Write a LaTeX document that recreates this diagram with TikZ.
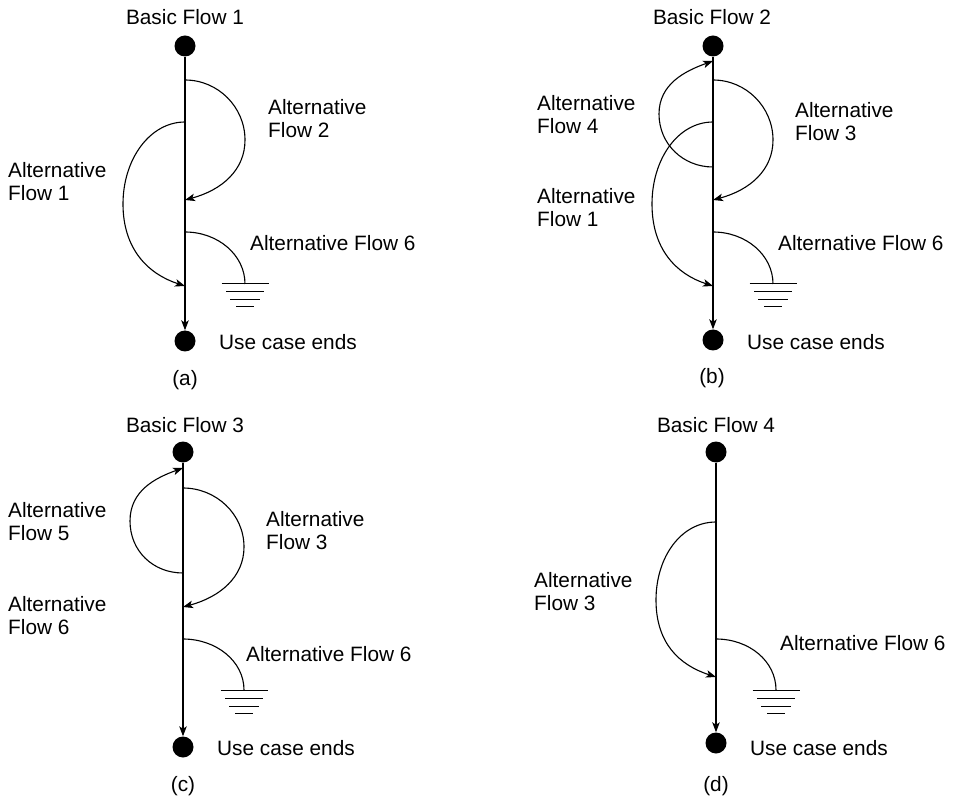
\documentclass[tikz,border=0pt]{standalone}
\usepackage{fontspec}
\setmainfont{Liberation Sans}
\usetikzlibrary{arrows.meta}
\newcommand\groundat[1]{%
  \draw[gline] ([xshift=-23.5pt]#1) -- ([xshift=23.5pt]#1);
  \draw[gline] ([xshift=-19pt,yshift=-8pt]#1) -- ([xshift=19pt,yshift=-8pt]#1);
  \draw[gline] ([xshift=-15pt,yshift=-16pt]#1) -- ([xshift=15pt,yshift=-16pt]#1);
  \draw[gline] ([xshift=-9pt,yshift=-23pt]#1) -- ([xshift=9pt,yshift=-23pt]#1);}
\begin{document}
\begin{tikzpicture}[x=1pt,y=-1pt,
  dot/.style={circle,fill=black,inner sep=0pt,minimum size=21pt},
  lbl/.style={font=\fontsize{20.8}{23}\selectfont,inner sep=0pt,align=left,anchor=west},
  ctr/.style={font=\fontsize{20.8}{23}\selectfont,inner sep=0pt},
  flow/.style={line width=1.1pt},
  arr/.style={line width=1.1pt,-{Stealth[length=10pt,width=7.5pt,inset=2.5pt]}},
  gline/.style={line width=1pt}]
\useasboundingbox (0,0) rectangle (953,799);
% ---------------- (a)
\node[dot] (a0) at (185,46) {};
\node[dot] (a9) at (185,341) {};
\draw[arr] (a0) -- (a9);
\coordinate (a2s) at (185,80); \coordinate (a2m) at (245,140); \coordinate (a2e) at (185,200);
\draw[arr] (a2s) .. controls +(33,0) and +(0,-33) .. (a2m) .. controls +(0,30) and +(37,-10) .. (a2e);
\coordinate (a1s) at (185,122); \coordinate (a1m) at (123,204); \coordinate (a1e) at (185,286);
\draw[arr] (a1s) .. controls +(-35,0) and +(0,-45) .. (a1m) .. controls +(0,45) and +(-37,-12) .. (a1e);
\coordinate (a6s) at (185,232); \coordinate (a6e) at (245,284);
\draw[flow] (a6s) .. controls +(33,0) and +(0,-29) .. (a6e);
\groundat{a6e}
\node[ctr] (aT) at (185,17) {Basic Flow 1};
\node[lbl] (aL2) at (268,118.5) {Alternative\\Flow 2};
\node[lbl] (aL1) at (8,181.5) {Alternative\\Flow 1};
\node[lbl] (aL6) at (250,243) {Alternative Flow 6};
\node[lbl] (aU) at (219,342) {Use case ends};
\node[ctr] (aC) at (185,380) {(a)};
% ---------------- (b)
\node[dot] (b0) at (713,46) {};
\node[dot] (b9) at (713,340) {};
\draw[arr] (b0) -- (b9);
\coordinate (b4s) at (713,167); \coordinate (b4m) at (659,114); \coordinate (b4e) at (713,61);
\draw[arr] (b4s) .. controls +(-30,0) and +(0,30) .. (b4m) .. controls +(0,-30) and +(-28,10) .. (b4e);
\coordinate (b3s) at (713,80); \coordinate (b3m) at (773,140); \coordinate (b3e) at (713,200);
\draw[arr] (b3s) .. controls +(33,0) and +(0,-33) .. (b3m) .. controls +(0,30) and +(37,-10) .. (b3e);
\coordinate (b1s) at (713,122); \coordinate (b1m) at (652,204); \coordinate (b1e) at (713,286);
\draw[arr] (b1s) .. controls +(-35,0) and +(0,-45) .. (b1m) .. controls +(0,45) and +(-37,-12) .. (b1e);
\coordinate (b6s) at (713,232); \coordinate (b6e) at (773,284);
\draw[flow] (b6s) .. controls +(33,0) and +(0,-29) .. (b6e);
\groundat{b6e}
\node[ctr] (bT) at (712,17) {Basic Flow 2};
\node[lbl] (bL4) at (537,114.5) {Alternative\\Flow 4};
\node[lbl] (bL3) at (795,121.5) {Alternative\\Flow 3};
\node[lbl] (bL1) at (537,207.5) {Alternative\\Flow 1};
\node[lbl] (bL6) at (778,243) {Alternative Flow 6};
\node[lbl] (bU) at (747,342) {Use case ends};
\node[ctr] (bC) at (712,378) {(b)};
% ---------------- (c)
\node[dot] (c0) at (183,452) {};
\node[dot] (c9) at (183,747) {};
\draw[arr] (c0) -- (c9);
\coordinate (c5s) at (183,573); \coordinate (c5m) at (130,521); \coordinate (c5e) at (183,468);
\draw[arr] (c5s) .. controls +(-30,0) and +(0,30) .. (c5m) .. controls +(0,-30) and +(-28,10) .. (c5e);
\coordinate (c3s) at (183,488); \coordinate (c3m) at (244,547); \coordinate (c3e) at (183,607);
\draw[arr] (c3s) .. controls +(33,0) and +(0,-33) .. (c3m) .. controls +(0,30) and +(37,-10) .. (c3e);
\coordinate (c6s) at (183,639); \coordinate (c6e) at (244,690);
\draw[flow] (c6s) .. controls +(33,0) and +(0,-29) .. (c6e);
\groundat{c6e}
\node[ctr] (cT) at (185,425) {Basic Flow 3};
\node[lbl] (cL5) at (8,521.5) {Alternative\\Flow 5};
\node[lbl] (cL3) at (266,530.5) {Alternative\\Flow 3};
\node[lbl] (cL6b) at (8,615.5) {Alternative\\Flow 6};
\node[lbl] (cL6) at (246,654) {Alternative Flow 6};
\node[lbl] (cU) at (217,748) {Use case ends};
\node[ctr] (cC) at (183,786) {(c)};
% ---------------- (d)
\node[dot] (d0) at (716,452) {};
\node[dot] (d9) at (716,743) {};
\draw[arr] (d0) -- (d9);
\coordinate (d3s) at (716,522); \coordinate (d3m) at (656,600); \coordinate (d3e) at (716,677);
\draw[arr] (d3s) .. controls +(-35,0) and +(0,-43) .. (d3m) .. controls +(0,43) and +(-37,-12) .. (d3e);
\coordinate (d6s) at (716,639); \coordinate (d6e) at (776,690);
\draw[flow] (d6s) .. controls +(33,0) and +(0,-29) .. (d6e);
\groundat{d6e}
\node[ctr] (dT) at (716,425) {Basic Flow 4};
\node[lbl] (dL3) at (534,591.5) {Alternative\\Flow 3};
\node[lbl] (dL6) at (780,643) {Alternative Flow 6};
\node[lbl] (dU) at (750,748) {Use case ends};
\node[ctr] (dC) at (716,786) {(d)};
\end{tikzpicture}
\end{document}
